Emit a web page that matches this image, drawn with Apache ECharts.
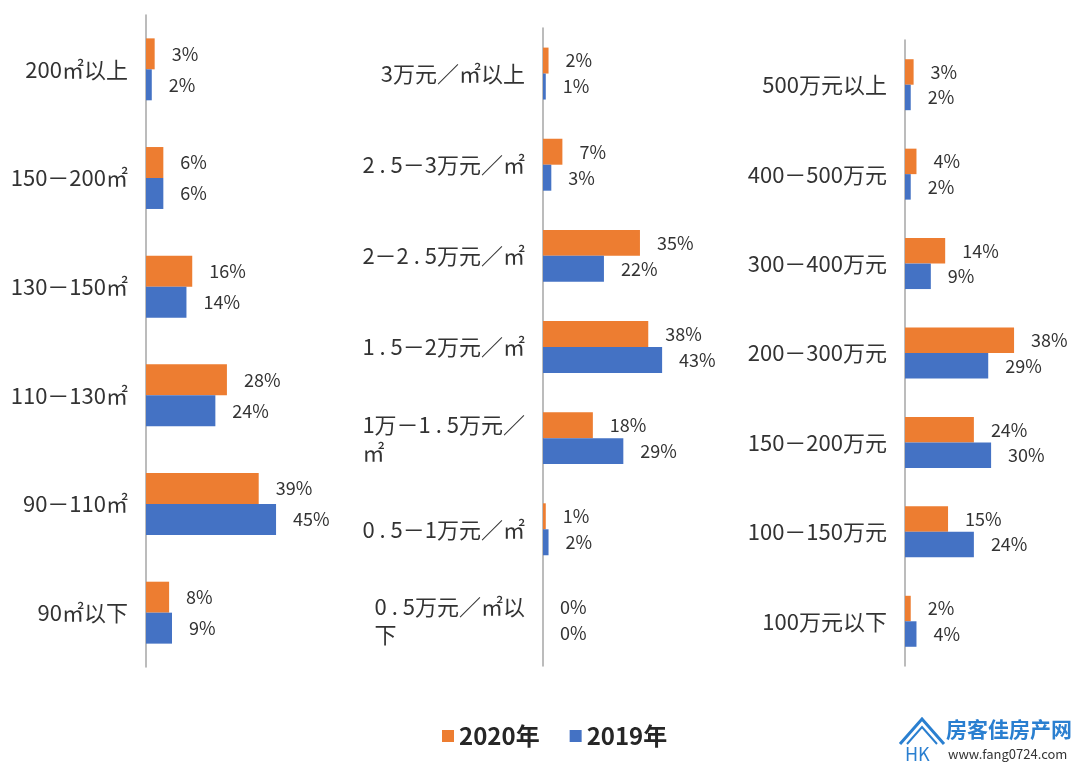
<!DOCTYPE html>
<html>
<head>
<meta charset="utf-8">
<script src="https://cdn.jsdelivr.net/npm/echarts@6/dist/echarts.min.js"></script>
<style>
html,body{margin:0;padding:0;background:#fff;}
#chart{width:1080px;height:768px;}
</style>
</head>
<body>
<div id="chart"></div>
<script>
// ---- data ----
const seriesNames = ['2020年', '2019年'];

const areaCategories = ['200㎡以上', '150－200㎡', '130－150㎡', '110－130㎡', '90－110㎡', '90㎡以下'];
const area2020 = [3, 6, 16, 28, 39, 8];
const area2019 = [2, 6, 14, 24, 45, 9];

const priceCategories = ['3万元／㎡以上', '2 . 5－3万元／㎡', '2－2 . 5万元／㎡', '1 . 5－2万元／㎡', '1万－1 . 5万元／\n㎡', '0 . 5－1万元／㎡', '0 . 5万元／㎡以\n下'];
const price2020 = [2, 7, 35, 38, 18, 1, 0];
const price2019 = [1, 3, 22, 43, 29, 2, 0];

const totalCategories = ['500万元以上', '400－500万元', '300－400万元', '200－300万元', '150－200万元', '100－150万元', '100万元以下'];
const total2020 = [3, 4, 14, 38, 24, 15, 2];
const total2019 = [2, 2, 9, 29, 30, 24, 4];

const axisMax = 50;

// ---- styles ----
const FONT = '"Noto Sans CJK SC", "Noto Sans", sans-serif';
const C2020 = '#ED7D31';
const C2019 = '#4472C4';

const chart = echarts.init(document.getElementById('chart'));

const grids = [
  { left: 146, top: 15, width: 144.5, height: 652 },
  { left: 543, top: 28, width: 138.5, height: 638 },
  { left: 905, top: 40, width: 143.5, height: 626 }
];
const cats = [areaCategories, priceCategories, totalCategories];
const d2020 = [area2020, price2020, total2020];
const d2019 = [area2019, price2019, total2019];

function labelFormatter(v) {
  const parts = v.split('\n');
  if (parts.length === 1) return '{a|' + v + '}';
  return '{a|' + parts[0] + '}\n{l|' + parts[1] + '}';
}

const richLabel = {
  a: { fontSize: 22, color: '#333', fontFamily: FONT, lineHeight: 28 },
  l: { fontSize: 22, color: '#333', fontFamily: FONT, lineHeight: 28, align: 'left' }
};

const xAxes = grids.map((g, i) => ({
  type: 'value', gridIndex: i, min: 0, max: axisMax, show: false
}));
const yAxes = grids.map((g, i) => ({
  type: 'category', gridIndex: i, data: cats[i], inverse: true,
  axisLine: { show: true, lineStyle: { color: '#a6a6a6', width: 1.5 } },
  axisTick: { show: false },
  splitLine: { show: false },
  axisLabel: { margin: 18, formatter: labelFormatter, rich: richLabel }
}));

const barLabel = {
  show: true, position: 'right', distance: 17, formatter: '{c}%',
  fontSize: 18, color: '#333', fontFamily: FONT
};

const series = [];
grids.forEach((g, i) => {
  series.push({
    name: seriesNames[0], type: 'bar', xAxisIndex: i, yAxisIndex: i,
    data: d2020[i], itemStyle: { color: C2020 },
    barGap: '0%', barCategoryGap: '43%', label: barLabel
  });
  series.push({
    name: seriesNames[1], type: 'bar', xAxisIndex: i, yAxisIndex: i,
    data: d2019[i], itemStyle: { color: C2019 },
    barGap: '0%', barCategoryGap: '43%', label: barLabel
  });
});

chart.setOption({
  animation: false,
  backgroundColor: '#fff',
  textStyle: { fontFamily: FONT },
  grid: grids,
  xAxis: xAxes,
  yAxis: yAxes,
  legend: {
    data: seriesNames, left: 437, top: 719, itemWidth: 12, itemHeight: 12,
    itemGap: 30, icon: 'rect',
    textStyle: { fontSize: 24, fontWeight: 'bold', color: '#262626', fontFamily: FONT }
  },
  graphic: [
    { type: 'polyline', shape: { points: [[900, 744], [922, 719], [944, 744]] },
      style: { stroke: '#2a7fd0', lineWidth: 3, fill: null } },
    { type: 'polyline', shape: { points: [[907, 744], [922, 727], [937, 744]] },
      style: { stroke: '#2a7fd0', lineWidth: 2, fill: null } },
    { type: 'text', left: 905, top: 745,
      style: { text: 'HK', fontSize: 18, fill: '#2a7fd0', fontFamily: FONT } },
    { type: 'text', left: 946, top: 719,
      style: { text: '房客佳房产网', fontSize: 21, fontWeight: 'bold', fill: '#2a7fd0', fontFamily: FONT } },
    { type: 'text', left: 948, top: 748,
      style: { text: 'www.fang0724.com', fontSize: 13, fill: '#333', fontFamily: FONT } }
  ],
  series: series
});
</script>
</body>
</html>
